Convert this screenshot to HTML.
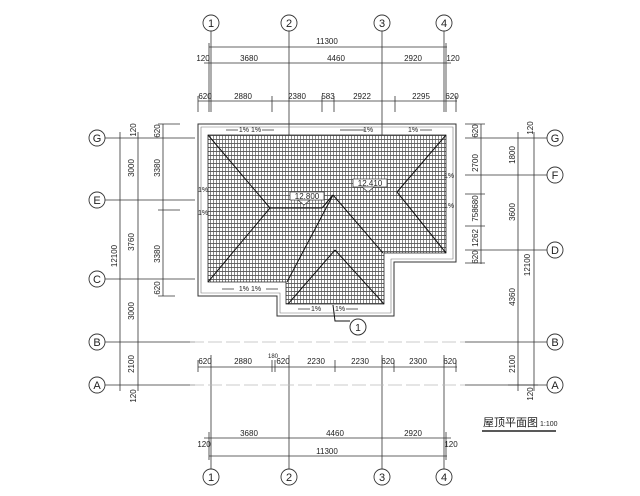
<!DOCTYPE html>
<html><head><meta charset="utf-8"><style>
html,body{margin:0;padding:0;background:#fff;}
svg{display:block}
text{font-family:"Liberation Sans","Noto Sans CJK SC",sans-serif;fill:#222}
</style></head><body>
<svg width="640" height="496" viewBox="0 0 640 496" xmlns="http://www.w3.org/2000/svg">
<defs>
<pattern id="tile" width="3" height="4" patternUnits="userSpaceOnUse">
<rect width="3" height="4" fill="#fff"/>
<line x1="0" y1="3.5" x2="3" y2="3.5" stroke="#444" stroke-width="0.8"/>
<line x1="0.5" y1="0" x2="0.5" y2="4" stroke="#555" stroke-width="0.7"/>
</pattern>
</defs>
<g stroke="#333" stroke-width="0.8" fill="none">
<line x1="211" y1="31" x2="211" y2="112"/><line x1="289" y1="31" x2="289" y2="135"/><line x1="382" y1="31" x2="382" y2="135"/><line x1="444" y1="31" x2="444" y2="112"/>
<line x1="211" y1="355" x2="211" y2="469"/><line x1="289" y1="355" x2="289" y2="469"/><line x1="382" y1="355" x2="382" y2="469"/><line x1="444" y1="355" x2="444" y2="469"/>
<line x1="105" y1="138" x2="195" y2="138"/><line x1="105" y1="200" x2="195" y2="200"/><line x1="105" y1="279" x2="195" y2="279"/><line x1="105" y1="342" x2="195" y2="342"/><line x1="105" y1="385" x2="195" y2="385"/>
<line x1="465" y1="138" x2="547" y2="138"/><line x1="465" y1="175" x2="547" y2="175"/><line x1="465" y1="250" x2="547" y2="250"/><line x1="465" y1="342" x2="547" y2="342"/><line x1="465" y1="385" x2="547" y2="385"/>
<line x1="190" y1="342" x2="465" y2="342" stroke-dasharray="14 4" stroke="#bbb"/>
<line x1="190" y1="385" x2="465" y2="385" stroke-dasharray="14 4" stroke="#bbb"/>
<line x1="209" y1="47" x2="447" y2="47"/><line x1="204" y1="63" x2="451" y2="63"/><line x1="198" y1="101" x2="457" y2="101"/>
<line x1="209" y1="43" x2="209" y2="112"/><line x1="446" y1="43" x2="446" y2="112"/>
<line x1="198" y1="96" x2="198" y2="112"/><line x1="272" y1="96" x2="272" y2="112"/><line x1="322" y1="96" x2="322" y2="112"/><line x1="334" y1="96" x2="334" y2="112"/><line x1="395" y1="96" x2="395" y2="112"/><line x1="456" y1="96" x2="456" y2="112"/>
<line x1="198" y1="367" x2="457" y2="367"/><line x1="204" y1="438" x2="451" y2="438"/><line x1="209" y1="456" x2="447" y2="456"/>
<line x1="198" y1="360" x2="198" y2="372"/><line x1="272" y1="360" x2="272" y2="372"/><line x1="275" y1="360" x2="275" y2="372"/><line x1="335" y1="360" x2="335" y2="372"/><line x1="394" y1="360" x2="394" y2="372"/><line x1="456" y1="360" x2="456" y2="372"/>
<line x1="209" y1="432" x2="209" y2="460"/><line x1="446" y1="432" x2="446" y2="460"/>
<line x1="120" y1="132" x2="120" y2="391"/><line x1="138" y1="132" x2="138" y2="391"/><line x1="163" y1="124" x2="163" y2="296"/>
<line x1="158" y1="124" x2="180" y2="124"/><line x1="158" y1="210" x2="180" y2="210"/><line x1="158" y1="296" x2="175" y2="296"/>
<line x1="481" y1="124" x2="481" y2="264"/><line x1="518" y1="132" x2="518" y2="391"/><line x1="534" y1="132" x2="534" y2="391"/>
<line x1="465" y1="124" x2="485" y2="124"/><line x1="465" y1="194" x2="485" y2="194"/><line x1="465" y1="226" x2="485" y2="226"/><line x1="465" y1="263" x2="485" y2="263"/>
<line x1="508" y1="385" x2="538" y2="385"/>
</g>
<path d="M198 124 H456 V262 H394 V316 H277 V296 H198 Z" fill="none" stroke="#333" stroke-width="1"/>
<path d="M201 127 H453 V259 H391 V313 H280 V293 H201 Z" fill="none" stroke="#777" stroke-width="0.6"/>
<path d="M208 135 H446 V253 H384 V304 H286 V282 H208 Z" fill="url(#tile)" stroke="#222" stroke-width="0.8"/>
<g stroke="#111" stroke-width="1" fill="none">
<line x1="208" y1="135" x2="270" y2="208"/><line x1="208" y1="282" x2="270" y2="208"/>
<line x1="446" y1="135" x2="397" y2="192"/><line x1="446" y1="253" x2="397" y2="192"/>
<line x1="270" y1="208" x2="322" y2="208"/><line x1="322" y1="208" x2="333" y2="195"/>
<line x1="333" y1="195" x2="287" y2="282"/><line x1="333" y1="195" x2="383" y2="253"/>
<line x1="335" y1="250" x2="288" y2="304"/><line x1="335" y1="250" x2="384" y2="304"/>
<polyline points="333,305 335,321 350,321"/>
</g>
<g stroke="#222" stroke-width="0.7">
<line x1="226" y1="130" x2="238" y2="130"/><line x1="262" y1="130" x2="274" y2="130"/>
<line x1="340" y1="130" x2="365" y2="130"/><line x1="420" y1="130" x2="432" y2="130"/>
<line x1="222" y1="289" x2="234" y2="289"/><line x1="266" y1="289" x2="278" y2="289"/>
<line x1="298" y1="309" x2="310" y2="309"/><line x1="346" y1="309" x2="358" y2="309"/>
</g>
<g fill="#fff" stroke="#333" stroke-width="0.7">
<rect x="290" y="192" width="34" height="8"/><rect x="353" y="179" width="34" height="8"/>
</g>
<polygon points="298,200 310,200 304,205" fill="#fff" stroke="#333" stroke-width="0.7"/>
<polygon points="362,187 374,187 368,192" fill="#fff" stroke="#333" stroke-width="0.7"/>
<g font-size="7" text-anchor="middle">
<text x="250" y="132">1% 1%</text><text x="368" y="132">1%</text><text x="413" y="132">1%</text>
<text x="250" y="291">1% 1%</text><text x="316" y="311">1%</text><text x="340" y="311">1%</text>
<text x="307" y="199" font-size="8">12.800</text><text x="370" y="186" font-size="8">12.410</text>
<text x="203" y="192">1%</text><text x="203" y="215">1%</text><text x="449" y="178">1%</text><text x="449" y="208">1%</text>
</g>
<circle cx="358" cy="327" r="8" fill="#fff" stroke="#333"/><text x="358" y="331" font-size="10" text-anchor="middle">1</text>
<g fill="#fff" stroke="#333" stroke-width="0.9">
<circle cx="211" cy="23" r="8"/><circle cx="289" cy="23" r="8"/><circle cx="382" cy="23" r="8"/><circle cx="444" cy="23" r="8"/>
<circle cx="211" cy="477" r="8"/><circle cx="289" cy="477" r="8"/><circle cx="382" cy="477" r="8"/><circle cx="444" cy="477" r="8"/>
<circle cx="97" cy="138" r="8"/><circle cx="97" cy="200" r="8"/><circle cx="97" cy="279" r="8"/><circle cx="97" cy="342" r="8"/><circle cx="97" cy="385" r="8"/>
<circle cx="555" cy="138" r="8"/><circle cx="555" cy="175" r="8"/><circle cx="555" cy="250" r="8"/><circle cx="555" cy="342" r="8"/><circle cx="555" cy="385" r="8"/>
</g>
<g font-size="11" text-anchor="middle">
<text x="211" y="27">1</text><text x="289" y="27">2</text><text x="382" y="27">3</text><text x="444" y="27">4</text>
<text x="211" y="481">1</text><text x="289" y="481">2</text><text x="382" y="481">3</text><text x="444" y="481">4</text>
<text x="97" y="142">G</text><text x="97" y="204">E</text><text x="97" y="283">C</text><text x="97" y="346">B</text><text x="97" y="389">A</text>
<text x="555" y="142">G</text><text x="555" y="179">F</text><text x="555" y="254">D</text><text x="555" y="346">B</text><text x="555" y="389">A</text>
</g>
<g font-size="8" text-anchor="middle">
<text x="327" y="44">11300</text>
<text x="203" y="61">120</text><text x="249" y="61">3680</text><text x="336" y="61">4460</text><text x="413" y="61">2920</text><text x="453" y="61">120</text>
<text x="205" y="99">620</text><text x="243" y="99">2880</text><text x="297" y="99">2380</text><text x="328" y="99">583</text><text x="362" y="99">2922</text><text x="421" y="99">2295</text><text x="452" y="99">620</text>
<text x="205" y="364">620</text><text x="243" y="364">2880</text><text x="273" y="358" font-size="6">180</text><text x="283" y="364">620</text><text x="316" y="364">2230</text><text x="360" y="364">2230</text><text x="388" y="364">620</text><text x="418" y="364">2300</text><text x="450" y="364">620</text>
<text x="249" y="436">3680</text><text x="335" y="436">4460</text><text x="413" y="436">2920</text>
<text x="204" y="447">120</text><text x="451" y="447">120</text><text x="327" y="454">11300</text>
</g>
<g font-size="8" text-anchor="middle">
<text transform="translate(136,130) rotate(-90)">120</text>
<text transform="translate(134,168) rotate(-90)">3000</text>
<text transform="translate(134,242) rotate(-90)">3760</text>
<text transform="translate(134,311) rotate(-90)">3000</text>
<text transform="translate(134,364) rotate(-90)">2100</text>
<text transform="translate(136,396) rotate(-90)">120</text>
<text transform="translate(117,256) rotate(-90)">12100</text>
<text transform="translate(160,131) rotate(-90)">620</text>
<text transform="translate(160,168) rotate(-90)">3380</text>
<text transform="translate(160,254) rotate(-90)">3380</text>
<text transform="translate(160,288) rotate(-90)">620</text>
<text transform="translate(478,131) rotate(-90)">620</text>
<text transform="translate(478,163) rotate(-90)">2700</text>
<text transform="translate(478,202) rotate(-90)">680</text>
<text transform="translate(478,215) rotate(-90)">758</text>
<text transform="translate(478,238) rotate(-90)">1262</text>
<text transform="translate(478,257) rotate(-90)">620</text>
<text transform="translate(515,155) rotate(-90)">1800</text>
<text transform="translate(515,212) rotate(-90)">3600</text>
<text transform="translate(515,297) rotate(-90)">4360</text>
<text transform="translate(515,364) rotate(-90)">2100</text>
<text transform="translate(533,128) rotate(-90)">120</text>
<text transform="translate(533,394) rotate(-90)">120</text>
<text transform="translate(530,265) rotate(-90)">12100</text>
</g>
<text x="483" y="426" font-size="11">屋顶平面图</text><text x="540" y="426" font-size="7">1:100</text>
<line x1="482" y1="431" x2="556" y2="431" stroke="#222" stroke-width="1.5"/>
</svg>
</body></html>
